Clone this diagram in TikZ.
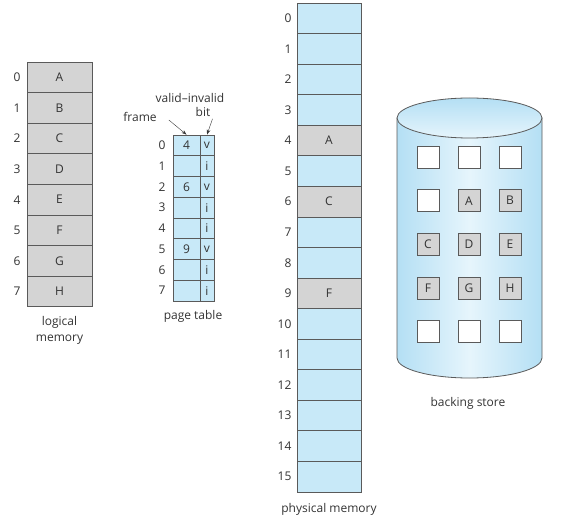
\documentclass[tikz,border=0pt]{standalone}
\usepackage{fontspec}
\setmainfont{Open Sans}
\usepackage{tikz}
\usetikzlibrary{arrows.meta,positioning}
\definecolor{memblue}{HTML}{C8E9F8}
\definecolor{memgray}{HTML}{D4D4D4}
\definecolor{edgegray}{HTML}{5A5A5A}
\definecolor{txtgray}{HTML}{333333}
\definecolor{drumblue}{HTML}{B4DFF4}
\definecolor{drumlight}{HTML}{E6F5FC}
\tikzset{
  cell/.style={draw=edgegray,line width=0.8pt,inner sep=0pt,text=txtgray},
  lbl/.style={inner sep=0pt,text=txtgray},
  slot/.style={cell,minimum width=22pt,minimum height=22pt}
}

\begin{document}
\begin{tikzpicture}[x=1pt,y=-1pt,font=\fontsize{12}{16}\selectfont,>={Stealth[length=5pt,width=3.5pt]}]
\useasboundingbox (0,0) rectangle (564,521);
% logical memory
\foreach \l [count=\i from 0] in {A,B,C,D,E,F,G,H}{
  \node[cell,fill=memgray,minimum width=65pt,minimum height=30.6pt] (lm\i) at (59.5,77.3+30.6*\i) {\l};
  \node[lbl,left=6pt of lm\i] {\i};
}
\node[lbl,align=center,below=9pt of lm7] (lmname) {logical\\memory};
% page table
\foreach \f/\b [count=\i from 0] in {4/v,/i,6/v,/i,/i,9/v,/i,/i}{
  \node[cell,fill=memblue,minimum width=27pt,minimum height=20.75pt] (ptf\i) at (186.5,145.4+20.75*\i) {\f};
  \node[cell,fill=memblue,minimum width=14pt,minimum height=20.75pt] (ptb\i) at (207,145.4+20.75*\i) {\b};
  \node[lbl,left=7pt of ptf\i] {\i};
}
\node[lbl] (ptname) at (193,316) {page table};
\node[lbl] (frame) at (140,117) {frame};
\node[lbl] (valid) at (190,98) {valid–invalid};
\node[lbl] (bit) at (203,112) {bit};
\draw[->,edgegray!60!black] ([shift={(12pt,-3pt)}]frame.east) -- (ptf0.north);
\draw[->,edgegray!60!black] ([shift={(2pt,-2pt)}]bit.south east) -- (ptb0.north);
% physical memory
\foreach \i in {0,...,15}{
  \node[cell,fill=memblue,minimum width=64pt,minimum height=30.56pt] (pm\i) at (329,18.3+30.56*\i) {};
  \node[lbl,left=5pt of pm\i] {\i};
}
\foreach \i/\l in {4/A,6/C,9/F}
  \node[cell,fill=memgray,minimum width=64pt,minimum height=30.56pt] (pm\l) at (pm\i) {\l};
\node[lbl,below=11pt of pm15] (pmname) {physical memory};
% backing store
\shade[left color=drumblue,right color=drumblue,middle color=drumlight,draw=edgegray,line width=0.8pt]
  (397,118) -- (397,358) arc[start angle=180,end angle=0,x radius=72.5,y radius=20] -- (542,118) -- cycle;
\shade[top color=drumblue,bottom color=drumlight,draw=edgegray,line width=0.8pt]
  (469.5,118) ellipse[x radius=72.5,y radius=20];
\foreach \a/\b/\c [count=\r from 0] in {//,/A/B,C/D/E,F/G/H,//}{
  \node[slot,fill=white] (bs\r a) at (428,157+43.7*\r) {};
  \node[slot,fill=white] (bs\r b) at (469,157+43.7*\r) {};
  \node[slot,fill=white] (bs\r c) at (510,157+43.7*\r) {};
}
\foreach \r/\a/\b/\c in {1//A/B,2/C/D/E,3/F/G/H}{
  \ifx\a\empty\else\node[slot,fill=memgray] at (bs\r a) {\a};\fi
  \node[slot,fill=memgray] at (bs\r b) {\b};
  \node[slot,fill=memgray] at (bs\r c) {\c};
}
\node[lbl] (bsname) at (468,403) {backing store};
\end{tikzpicture}
\end{document}
